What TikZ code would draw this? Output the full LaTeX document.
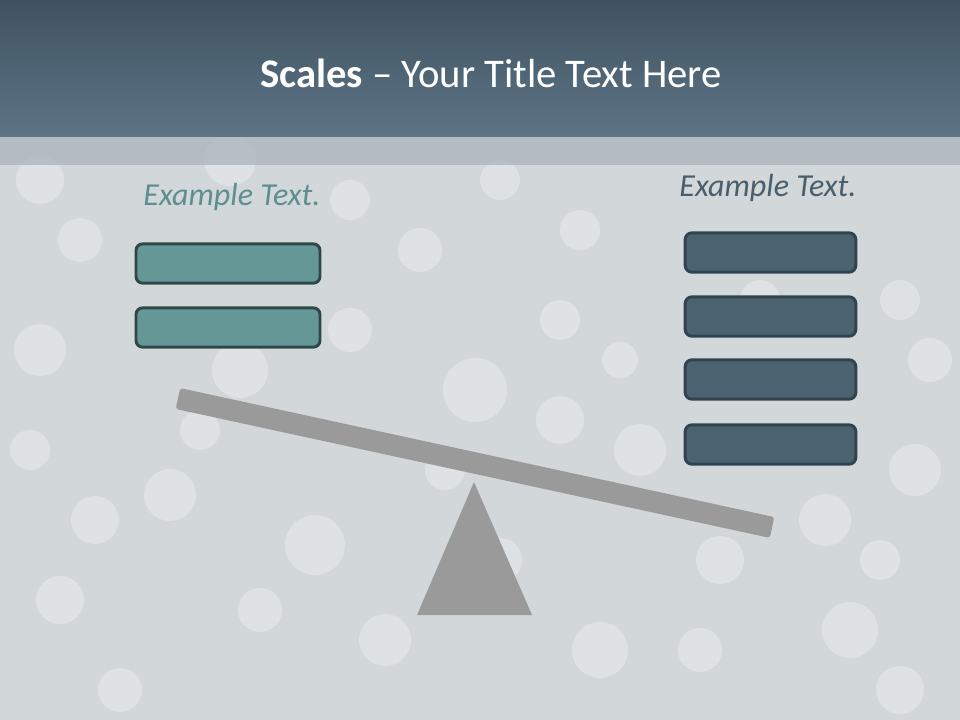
\documentclass[tikz,border=0pt]{standalone}
\usepackage{fontspec}
\setmainfont{Carlito}
\begin{document}
\begin{tikzpicture}[x=0.75pt,y=-0.75pt,
  bokeh/.style={fill=white,draw=none,opacity=0.28},
  lbox/.style={draw=lboxline,fill=lboxfill,line width=2.2pt,rounded corners=5pt,minimum width=138pt,minimum height=29.5pt,inner sep=0pt},
  rbox/.style={draw=rboxline,fill=rboxfill,line width=2.2pt,rounded corners=5pt,minimum width=128pt,minimum height=29.5pt,inner sep=0pt},
  extext/.style={font=\fontsize{24}{28}\selectfont\itshape,inner sep=0pt,anchor=base},
  heavy/.style={fill=scalegray,draw=none}]
\definecolor{bg}{HTML}{D2D7DA}
\definecolor{headtop}{HTML}{3F5260}
\definecolor{headbot}{HTML}{5E7586}
\definecolor{stripc}{HTML}{AAB3BA}
\definecolor{lboxfill}{HTML}{659797}
\definecolor{lboxline}{HTML}{2E4848}
\definecolor{rboxfill}{HTML}{4B6271}
\definecolor{rboxline}{HTML}{33434E}
\definecolor{ltext}{HTML}{5E8E8E}
\definecolor{rtext}{HTML}{4A5E6C}
\definecolor{scalegray}{HTML}{9A9A9A}
\useasboundingbox (0,0) rectangle (960,720);
% background
\fill[bg] (0,0) rectangle (960,720);
\foreach \cx/\cy/\r in {475/390/32, 315/545/30, 915/470/26, 825/520/26, 385/640/26, 850/630/28,
  40/350/26, 240/370/28, 170/495/26, 95/520/24, 560/420/24, 640/450/26, 720/560/24, 600/650/28,
  60/600/24, 260/610/22, 500/560/22, 930/360/22, 30/450/20, 700/650/22, 900/690/24, 120/690/22,
  350/330/22, 560/320/20, 620/360/18, 420/250/22, 580/230/20, 80/240/22, 230/160/26, 40/180/24,
  900/300/20, 760/300/20, 350/200/20, 500/180/20, 880/560/20, 445/470/20, 200/430/20}
  \fill[bokeh] (\cx,\cy) circle (\r);
% header
\shade[top color=headtop,bottom color=headbot] (0,0) rectangle (960,137);
\fill[stripc,opacity=0.75] (0,137) rectangle (960,165);
\node[text=white,font=\fontsize{30.5}{36}\selectfont,anchor=base,inner sep=0pt] (title) at (491,88)
  {\textbf{Scales} – Your Title Text Here};
% left side
\node[extext,text=ltext] (ltitle) at (232,206) {Example Text.};
\node[lbox] (l1) at (228,263.5) {};
\node[lbox] (l2) at (228,327.5) {};
% right side
\node[extext,text=rtext] (rtitle) at (768,197) {Example Text.};
\node[rbox] (r1) at (770.5,252.5) {};
\node[rbox] (r2) at (770.5,316.5) {};
\node[rbox] (r3) at (770.5,379.5) {};
\node[rbox] (r4) at (770.5,444.5) {};
% scale
\coordinate (apex) at (474,482);
\coordinate (bl) at (417,615);
\coordinate (br) at (532,615);
\fill[heavy] (apex) -- (br) -- (bl) -- cycle;
\node[heavy,rotate=-12.25,minimum width=456pt,minimum height=16pt,inner sep=0pt,rounded corners=2pt] (beam) at (475,463) {};
\end{tikzpicture}
\end{document}
